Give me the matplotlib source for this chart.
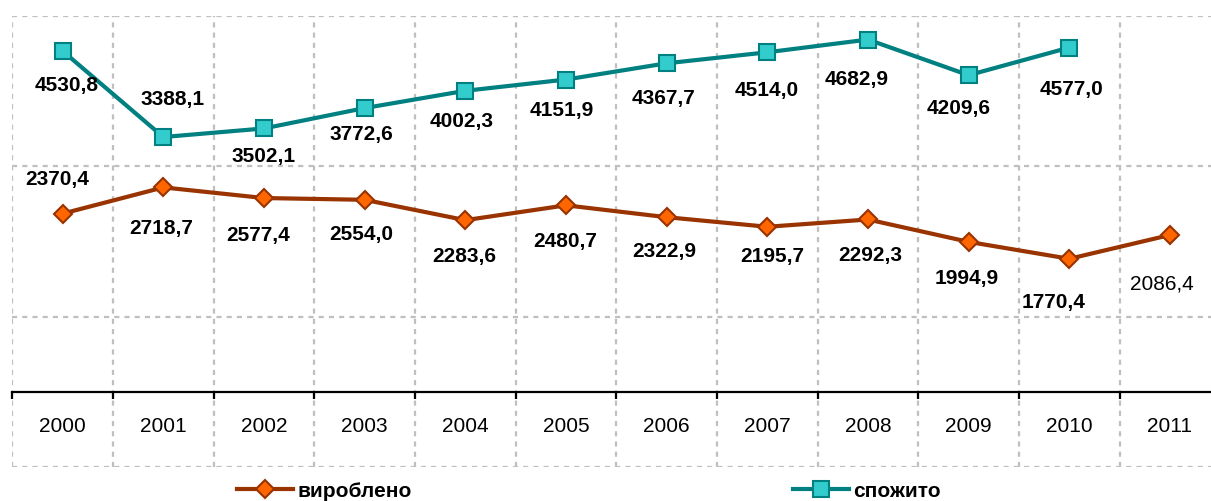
import matplotlib
matplotlib.use("Agg")
import matplotlib.pyplot as plt
from matplotlib.lines import Line2D
import numpy as np

plt.rcParams['font.family'] = ['Liberation Sans', 'DejaVu Sans']

years = ['2000', '2001', '2002', '2003', '2004', '2005', '2006', '2007', '2008', '2009', '2010', '2011']
produced = [2370.4, 2718.7, 2577.4, 2554.0, 2283.6, 2480.7, 2322.9, 2195.7, 2292.3, 1994.9, 1770.4, 2086.4]
consumed = [4530.8, 3388.1, 3502.1, 3772.6, 4002.3, 4151.9, 4367.7, 4514.0, 4682.9, 4209.6, 4577.0]
produced_labels = ['2370,4', '2718,7', '2577,4', '2554,0', '2283,6', '2480,7', '2322,9',
                   '2195,7', '2292,3', '1994,9', '1770,4', '2086,4']
consumed_labels = ['4530,8', '3388,1', '3502,1', '3772,6', '4002,3', '4151,9', '4367,7',
                   '4514,0', '4682,9', '4209,6', '4577,0']
legend_names = ['вироблено', 'спожито']

# label offsets in pixels (dx, dy up)
prod_off = [(-5, 35), (-2, -40), (-6, -36), (-3, -34), (-1, -35), (-1, -35), (-2, -33),
            (5, -29), (2, -35), (-2, -36), (-16, -43), (-8, -48)]
cons_off = [(4, -33), (9, 39), (0, -27), (-3, -25), (-4, -30), (-4, -30), (-3, -34),
            (-1, -37), (-11, -39), (-10, -32), (2, -41)]

W, H = 1211, 502
fig = plt.figure(figsize=(W / 100, H / 100), dpi=100)
left, right = 12.3, 1220.3
top, bottom = 16.7, 468.3
ax = fig.add_axes([left / W, 1 - bottom / H, (right - left) / W, (bottom - top) / H])

x = np.arange(len(years))
ax.set_xlim(-0.5, len(years) - 0.5)
ax.set_ylim(-1000, 5000)

grid_col = '#BFBFBF'
for yv in [-1000, 1000, 3000, 5000]:
    ax.axhline(yv, color=grid_col, lw=1.6, ls=(0, (2.3, 2.3)), zorder=0)
for xv in np.arange(-0.5, len(years), 1.0):
    ax.axvline(xv, color=grid_col, lw=1.6, ls=(0, (2.3, 2.3)), zorder=0)

for s in ['top', 'right', 'left']:
    ax.spines[s].set_visible(False)
ax.spines['bottom'].set_position(('data', 0))
ax.spines['bottom'].set_linewidth(1.6)
ax.spines['bottom'].set_color('black')
ax.set_yticks([])
ax.set_xticks(np.arange(-0.5, len(years), 1.0))
ax.set_xticklabels([])
ax.tick_params(axis='x', which='major', length=5, width=1.6, direction='out', color='black')
ax.set_xticks(x, minor=True)
ax.set_xticklabels(years, minor=True, fontsize=15)
ax.tick_params(axis='x', which='minor', length=0, pad=17)

lp, = ax.plot(x, produced, color='#993300', lw=3.0, marker='D', ms=9.5,
              mfc='#FF6600', mec='#993300', mew=1.5, zorder=3, clip_on=False)
lc, = ax.plot(x[:len(consumed)], consumed, color='#008080', lw=3.0, marker='s', ms=12,
              mfc='#33CCCC', mec='#008080', mew=1.5, zorder=3, clip_on=False)

for i, (v, t) in enumerate(zip(produced, produced_labels)):
    dx, dy = prod_off[i]
    ax.annotate(t, (x[i], v), xytext=(dx, dy), textcoords='offset pixels',
                ha='center', va='center', fontsize=15,
                fontweight='normal' if i == len(produced) - 1 else 'bold')
for i, (v, t) in enumerate(zip(consumed, consumed_labels)):
    dx, dy = cons_off[i]
    ax.annotate(t, (x[i], v), xytext=(dx, dy), textcoords='offset pixels',
                ha='center', va='center', fontsize=15, fontweight='bold')

handles = [Line2D([], [], color='#993300', lw=3.0, marker='D', ms=9.5, mfc='#FF6600', mec='#993300', mew=1.5),
           Line2D([], [], color='#008080', lw=3.0, marker='s', ms=12, mfc='#33CCCC', mec='#008080', mew=1.5)]
fig.legend(handles, legend_names, loc='center left', bbox_to_anchor=(237 / W, 1 - 492 / H),
           ncol=2, frameon=False, borderpad=0, borderaxespad=0, handlelength=2.7,
           handletextpad=0.2, columnspacing=18.3, prop={'size': 15, 'weight': 'bold'})

fig.savefig('out.png', dpi=100)
